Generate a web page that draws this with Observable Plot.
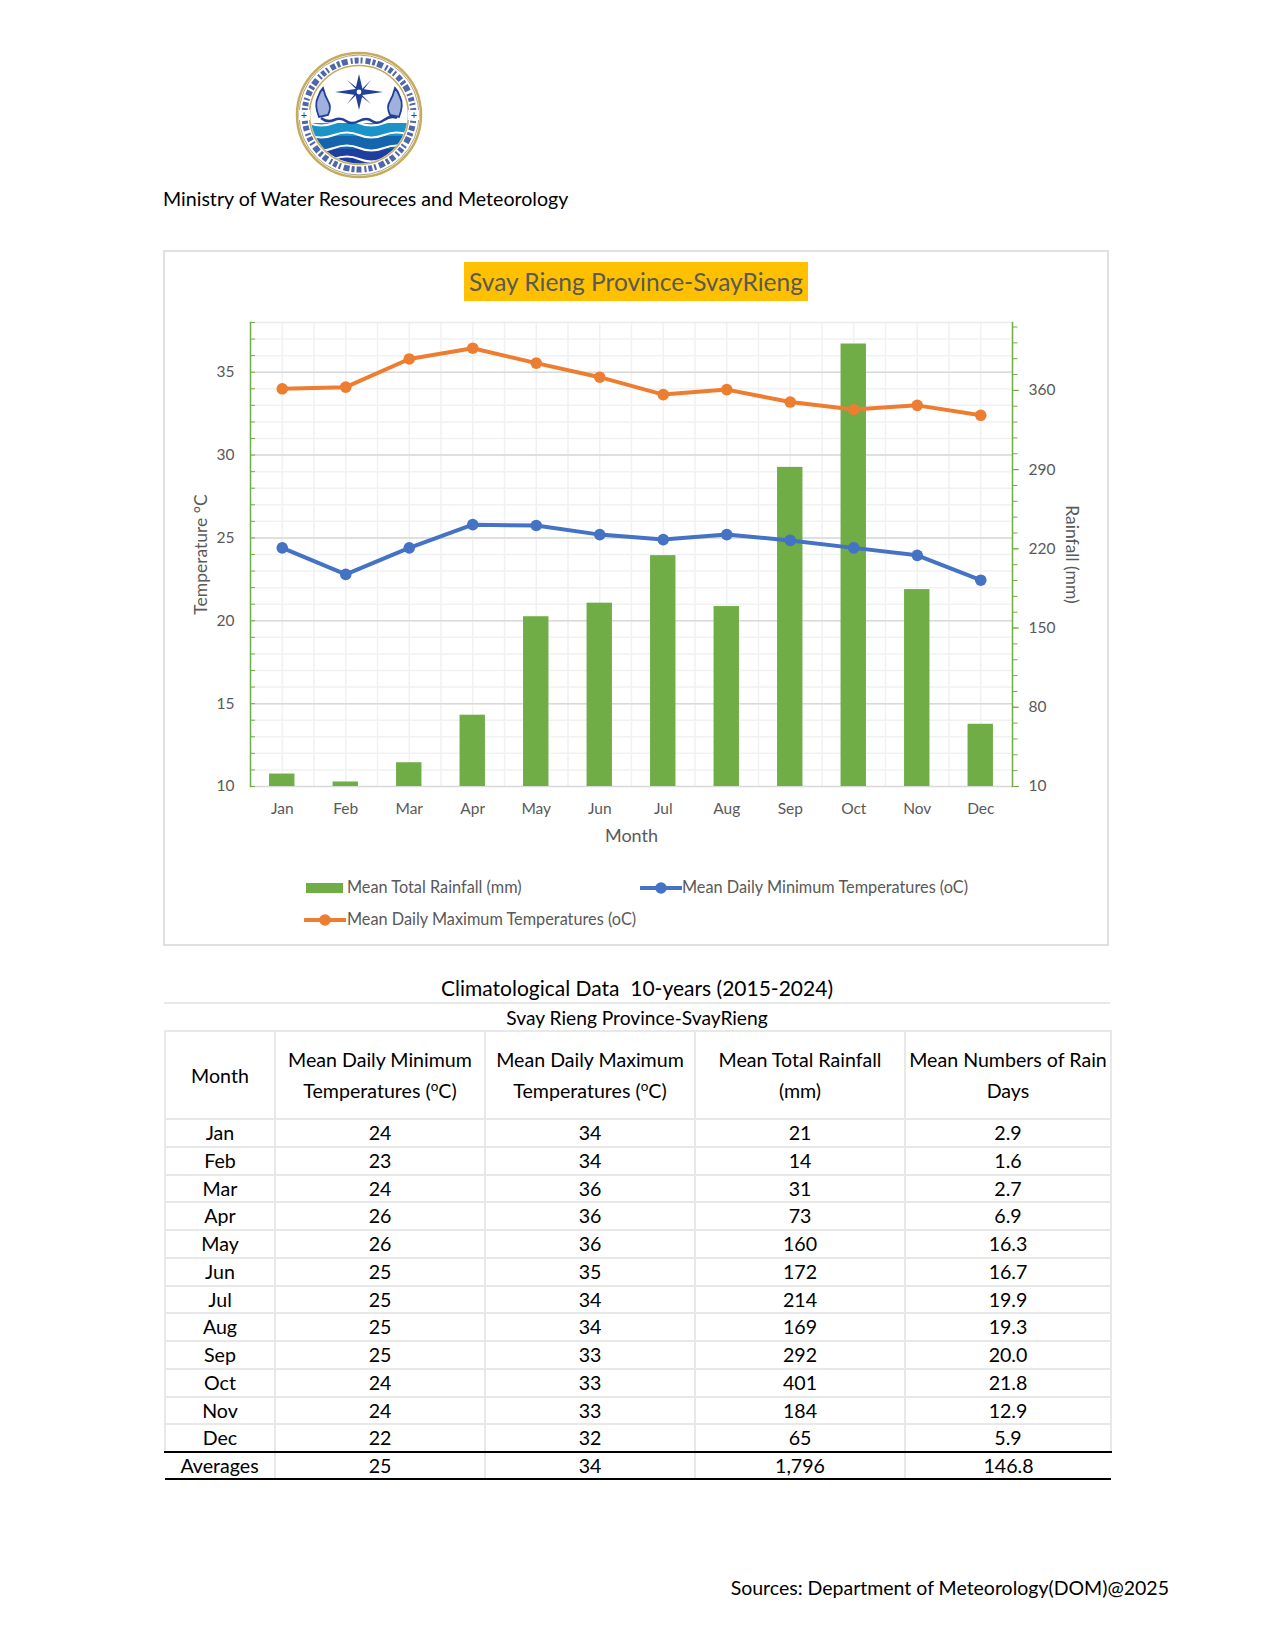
<!DOCTYPE html>
<html><head><meta charset="utf-8">
<script src="https://cdn.jsdelivr.net/npm/d3@7"></script>
<script src="https://cdn.jsdelivr.net/npm/@observablehq/plot@0.6"></script>
<style>
html,body{margin:0;padding:0;background:#fff;}
body{width:1275px;height:1650px;position:relative;font-family:Lato,sans-serif;overflow:hidden;}
.abs{position:absolute;white-space:nowrap;}
#frame{position:absolute;left:163px;top:250px;width:946px;height:696px;border:2px solid #e0e0e0;box-sizing:border-box;}
#chart{position:absolute;left:164px;top:251px;}
#chart svg{display:block;overflow:visible;}
#title{left:464px;top:262px;width:344px;height:39px;line-height:39px;background:#ffc000;color:#595959;font-size:24.5px;text-align:center;}
.leg{color:#595959;font-size:16.3px;line-height:20px;}
table{position:absolute;left:164px;top:1030px;width:946px;border-collapse:collapse;table-layout:fixed;font-size:19.6px;color:#000;text-align:center;}
td,th{border:2px solid #e8e8e8;padding:0;font-weight:400;line-height:24px;box-sizing:border-box;}
tr.head th{height:88px;line-height:31px;}
tr.dec td{border-bottom:2px solid #000;}
tr.avg td{border-top:2px solid #000;border-bottom:2px solid #000;border-left:none;border-right:none;}
tr.avg td+td{border-left:2px solid #e8e8e8;}
sup{font-size:13.5px;line-height:0;vertical-align:7px;}
</style></head>
<body>
<svg class="abs" style="left:290px;top:46px" width="138" height="138" viewBox="-69 -69 138 138">
  <defs><clipPath id="inner"><circle r="48.5"/></clipPath></defs>
  <circle r="62" fill="#fff" stroke="#c6ab5c" stroke-width="2.5"/>
  <circle r="60" fill="none" stroke="#8a7a45" stroke-width="0.7"/>
  <circle r="54.5" fill="none" stroke="#22409a" stroke-width="6" stroke-dasharray="4 2 2 3 5 2 3 2 6 3 2 2" opacity=".8"/>
  <circle r="49.5" fill="#fff" stroke="#c6ab5c" stroke-width="1.6"/>
  <rect x="-60" y="-5" width="11" height="10" fill="#fff"/><rect x="49" y="-5" width="11" height="10" fill="#fff"/>
  <text x="-55" y="4" font-size="11" fill="#22409a" text-anchor="middle">+</text>
  <text x="55" y="4" font-size="11" fill="#22409a" text-anchor="middle">+</text>
  <g clip-path="url(#inner)">
    <rect x="-50" y="8" width="100" height="13" fill="#1b93c9"/>
    <rect x="-50" y="21" width="100" height="13" fill="#1464ae"/>
    <rect x="-50" y="34" width="100" height="16" fill="#1f3f9e"/>
    <path d="M-50 8q12 5 25 0t25 0t25 0t25 0M-50 20q12 5 25 0t25 0t25 0t25 0M-50 33q12 5 25 0t25 0t25 0t25 0M-50 44q12 5 25 0t25 0t25 0t25 0" fill="none" stroke="#fff" stroke-width="2"/>
    <path d="M-38 3q6 5 13 2t12 1t13 0t13 0t12-1t13-2" fill="none" stroke="#22409a" stroke-width="2.5"/>
    <path d="M-40 2q-5-12-1-20q2-6 5-9q2 8 5 13q4 6 0 14zM40 2q5-12 1-20q-2-6-5-9q-2 8-5 13q-4 6 0 14z" fill="#9fb1dc" stroke="#22409a" stroke-width="1.8"/>
  </g>
  <path d="M0-41L3.5-26L24-23L3.5-20L0-5L-3.5-20L-24-23L-3.5-26Z" fill="#22409a"/>
  <path d="M-12-35L1.5-24.5L12-35L1.5-21.5L12-11L-1.5-21.5L-12-11L-1.5-24.5Z" fill="#22409a"/>
  <circle cy="-23" r="2.4" fill="#fff"/>
</svg>
<div class="abs" style="left:163px;top:187px;font-size:19.6px;line-height:24px;color:#000">Ministry of Water Resoureces and Meteorology</div>

<div id="frame"></div>
<div id="chart"></div>
<div id="title" class="abs">Svay Rieng Province-SvayRieng</div>

<svg class="abs" style="left:306px;top:883px" width="37" height="10"><rect width="37" height="10" fill="#70ad47"/></svg>
<div class="abs leg" style="left:347px;top:877px">Mean Total Rainfall (mm)</div>
<svg class="abs" style="left:640px;top:880px" width="42" height="16"><line x1="1" x2="41" y1="8" y2="8" stroke="#4472c4" stroke-width="4" stroke-linecap="round"/><circle cx="21" cy="8" r="5.8" fill="#4472c4"/></svg>
<div class="abs leg" style="left:682px;top:877px">Mean Daily Minimum Temperatures (oC)</div>
<svg class="abs" style="left:304px;top:912px" width="42" height="16"><line x1="1" x2="41" y1="8" y2="8" stroke="#ed7d31" stroke-width="4" stroke-linecap="round"/><circle cx="21" cy="8" r="5.8" fill="#ed7d31"/></svg>
<div class="abs leg" style="left:347px;top:909px">Mean Daily Maximum Temperatures (oC)</div>

<div class="abs" style="left:164px;width:946px;top:975px;text-align:center;font-size:21px;line-height:26px;color:#000;white-space:pre">Climatological Data  10-years (2015-2024)</div>
<div class="abs" style="left:164px;width:946px;top:1002px;border-top:2px solid #e8e8e8"></div>
<div class="abs" style="left:164px;width:946px;top:1006px;text-align:center;font-size:19.2px;line-height:24px;color:#000">Svay Rieng Province-SvayRieng</div>
<table id="tbl"></table>
<div class="abs" style="right:106px;top:1576px;font-size:19.5px;line-height:24px;color:#000">Sources: Department of Meteorology(DOM)@2025</div>

<script>
const months = ["Jan","Feb","Mar","Apr","May","Jun","Jul","Aug","Sep","Oct","Nov","Dec"];
const minTempLine = [24.4,22.8,24.4,25.8,25.75,25.2,24.9,25.2,24.85,24.4,23.95,22.45];
const maxTempLine = [34.0,34.1,35.8,36.45,35.55,34.7,33.65,33.95,33.2,32.75,33.0,32.4];
const rainfall = [21,14,31,73,160,172,214,169,292,401,184,65];

const tableMin = ["24","23","24","26","26","25","25","25","25","24","24","22"];
const tableMax = ["34","34","36","36","36","35","34","34","33","33","33","32"];
const tableRain = ["21","14","31","73","160","172","214","169","292","401","184","65"];
const tableDays = ["2.9","1.6","2.7","6.9","16.3","16.7","19.9","19.3","20.0","21.8","12.9","5.9"];
const averages = ["Averages","25","34","1,796","146.8"];

const tempTicks = [10,15,20,25,30,35];
const tempMinor = d3.range(10,39);
const rainTicks = [10,80,150,220,290,360];
const rainMinor = d3.range(10,421,14);

const rows = months.map((month,i)=>({month,rain:rainfall[i],tmin:minTempLine[i],tmax:maxTempLine[i]}));
// second axis: rainfall mapped on the temperature scale
const rainY = d3.scaleLinear([10,420],[10,38]);
const grey = "#595959", green = "#70ad47";
const step = 63.5;

const plot = Plot.plot({
  width:945,height:694,
  marginLeft:86,marginRight:97,marginTop:71,marginBottom:159,
  style:{fontFamily:"Lato,sans-serif",fontSize:"15.5px",background:"transparent",overflow:"visible"},
  x:{type:"band",domain:months,paddingInner:0.6,paddingOuter:0.3,round:false,label:null,axis:null},
  y:{domain:[10,38],label:null,axis:null},
  marks:[
    Plot.ruleY(tempMinor,{stroke:"#f1f1f1",strokeWidth:1.5}),
    Plot.ruleX(months,{stroke:"#f1f1f1",strokeWidth:1.5}),
    Plot.ruleX(months,{stroke:"#f1f1f1",strokeWidth:1.5,dx:step/2}),
    Plot.ruleY(tempTicks,{stroke:"#d9d9d9",strokeWidth:1.5}),
    Plot.ruleY(tempMinor.slice(-1),{stroke:"#ececec",strokeWidth:1.5}),
    Plot.barY(rows,{x:"month",y1:()=>10,y2:d=>rainY(d.rain),fill:green}),
    Plot.line(rows,{x:"month",y:"tmin",stroke:"#4472c4",strokeWidth:4}),
    Plot.dot(rows,{x:"month",y:"tmin",fill:"#4472c4",r:5.8}),
    Plot.line(rows,{x:"month",y:"tmax",stroke:"#ed7d31",strokeWidth:4}),
    Plot.dot(rows,{x:"month",y:"tmax",fill:"#ed7d31",r:5.8}),
    Plot.frame({anchor:"left",stroke:green,strokeWidth:1.5}),
    Plot.frame({anchor:"right",stroke:green,strokeWidth:1.5}),
    Plot.axisY(tempMinor,{anchor:"left",tickSize:-5,tickFormat:()=>"",stroke:green,label:null}),
    Plot.axisY(tempTicks,{anchor:"left",tickSize:0,tickPadding:16,fill:grey,label:null}),
    Plot.axisY(rainMinor,{anchor:"right",y:rainY,tickSize:4.5,tickFormat:()=>"",stroke:green,label:null}),
    Plot.axisY(rainTicks,{anchor:"right",y:rainY,tickSize:6,tickPadding:10,fill:grey,stroke:green,label:null}),
    Plot.axisX(months,{anchor:"bottom",tickSize:0,tickPadding:16,fill:grey,label:null}),
    Plot.text(["Temperature °C"],{frameAnchor:"left",textAnchor:"middle",dx:-49,dy:0,rotate:-90,fill:grey,fontSize:17.5}),
    Plot.text(["Rainfall (mm)"],{frameAnchor:"right",textAnchor:"middle",dx:59,dy:0,rotate:90,fill:grey,fontSize:17.5}),
    Plot.text(["Month"],{frameAnchor:"bottom",dy:55,fill:grey,fontSize:18})
  ]
});
document.getElementById("chart").append(plot);

// table
const tbl = d3.select("#tbl");
const cg = tbl.append("colgroup");
[110,210,210,210,206].forEach(w=>cg.append("col").style("width",w+"px"));
const head = tbl.append("tr").attr("class","head");
["Month","Mean Daily Minimum<br>Temperatures (<sup>o</sup>C)","Mean Daily Maximum<br>Temperatures (<sup>o</sup>C)","Mean Total Rainfall<br>(mm)","Mean Numbers of Rain<br>Days"].forEach(t=>head.append("th").html(t));
const rowH = [28,28,27,28];
months.forEach((m,i)=>{
  const r = tbl.append("tr").attr("class",i===11?"dec":null);
  [m,tableMin[i],tableMax[i],tableRain[i],tableDays[i]].forEach(t=>r.append("td").text(t).style("height",rowH[i%4]+"px"));
});
const a = tbl.append("tr").attr("class","avg");
averages.forEach(t=>a.append("td").text(t).style("height","27px"));
</script>
</body></html>
